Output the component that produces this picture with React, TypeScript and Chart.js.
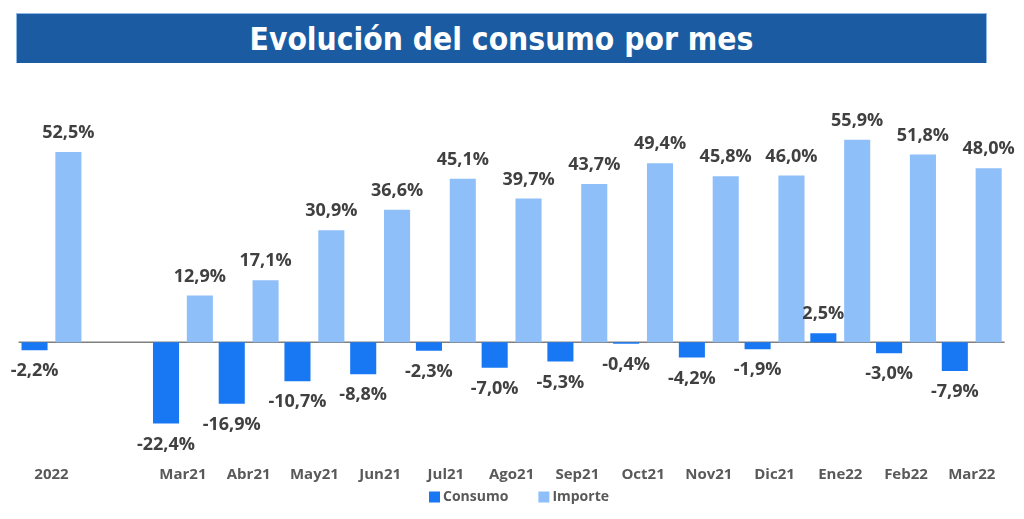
import React, { useEffect, useRef } from "react";
import { Chart, registerables } from "chart.js";

Chart.register(...registerables);

// Monthly categories (blank slot separates the yearly total from the months)
const categories = [
  "2022", "", "Mar21", "Abr21", "May21", "Jun21", "Jul21", "Ago21",
  "Sep21", "Oct21", "Nov21", "Dic21", "Ene22", "Feb22", "Mar22",
];

// Year-on-year change, %
const consumo = [-2.2, null, -22.4, -16.9, -10.7, -8.8, -2.3, -7.0, -5.3, -0.4, -4.2, -1.9, 2.5, -3.0, -7.9];
const importe = [52.5, null, 12.9, 17.1, 30.9, 36.6, 45.1, 39.7, 43.7, 49.4, 45.8, 46.0, 55.9, 51.8, 48.0];

const seriesNames = ["Consumo", "Importe"];
const titleText = "Evolución del consumo por mes";

const COLOR_CONSUMO = "#1878F4";
const COLOR_IMPORTE = "#8EBFF9";
const LABEL_COLOR = "#404040";
const AXIS_TEXT = "#595959";
const FONT = "'Open Sans', Lato, sans-serif";

const fmt = (v: number) => v.toFixed(1).replace(".", ",") + "%";

// Zero baseline under the bars
const zeroLine = {
  id: "zeroLine",
  beforeDatasetsDraw(chart: any) {
    const { ctx, chartArea, scales } = chart;
    const y = scales.y.getPixelForValue(0);
    ctx.save();
    ctx.strokeStyle = "#7f7f7f";
    ctx.lineWidth = 1.5;
    ctx.beginPath();
    ctx.moveTo(chartArea.left, y);
    ctx.lineTo(chartArea.right, y);
    ctx.stroke();
    ctx.restore();
  },
};

// Percentage labels at the end of each bar
const valueLabels = {
  id: "valueLabels",
  afterDatasetsDraw(chart: any) {
    const { ctx } = chart;
    ctx.save();
    ctx.font = `bold 18px ${FONT}`;
    ctx.fillStyle = LABEL_COLOR;
    ctx.textAlign = "center";
    ctx.textBaseline = "middle";
    chart.data.datasets.forEach((ds: any, di: number) => {
      const meta = chart.getDatasetMeta(di);
      meta.data.forEach((el: any, i: number) => {
        const v = ds.data[i];
        if (v === null || v === undefined) return;
        const y = v >= 0 ? el.y - 19 : el.y + 21;
        ctx.fillText(fmt(v), el.x, y);
      });
    });
    ctx.restore();
  },
};

// Compact legend centred under the axis labels
const bottomLegend = {
  id: "bottomLegend",
  afterDraw(chart: any) {
    const { ctx } = chart;
    const box = 11;
    const gap = 3;
    const itemGap = 30;
    const cy = 497;
    ctx.save();
    ctx.font = `bold 14px ${FONT}`;
    ctx.textBaseline = "middle";
    ctx.textAlign = "left";
    const items = chart.data.datasets.map((ds: any) => ({
      text: ds.label,
      color: ds.backgroundColor,
      w: box + gap + ctx.measureText(ds.label).width,
    }));
    const total = items.reduce((s: number, it: any) => s + it.w, 0) + itemGap * (items.length - 1);
    let x = 519 - total / 2;
    items.forEach((it: any) => {
      ctx.fillStyle = it.color;
      ctx.fillRect(x, cy - box / 2, box, box);
      ctx.fillStyle = AXIS_TEXT;
      ctx.fillText(it.text, x + box + gap, cy);
      x += it.w + itemGap;
    });
    ctx.restore();
  },
};

export default function App() {
  const canvasRef = useRef<HTMLCanvasElement | null>(null);

  useEffect(() => {
    if (!canvasRef.current) return;
    const chart = new Chart(canvasRef.current, {
      type: "bar",
      data: {
        labels: categories,
        datasets: [
          {
            label: seriesNames[0],
            data: consumo,
            backgroundColor: COLOR_CONSUMO,
            borderWidth: 0,
            categoryPercentage: 1.03,
            barPercentage: 0.77,
          },
          {
            label: seriesNames[1],
            data: importe,
            backgroundColor: COLOR_IMPORTE,
            borderWidth: 0,
            categoryPercentage: 1.03,
            barPercentage: 0.77,
          },
        ],
      },
      options: {
        responsive: false,
        animation: false,
        devicePixelRatio: 1,
        layout: { padding: { top: 106.7, left: 18.6, right: 19.4, bottom: 31 } },
        scales: {
          x: {
            grid: { display: false, drawTicks: false },
            border: { display: false },
            ticks: {
              padding: 4,
              color: AXIS_TEXT,
              font: { family: FONT, size: 15, weight: "bold" },
              maxRotation: 0,
              autoSkip: false,
            },
          },
          y: {
            display: false,
            min: -33,
            max: 65,
          },
        },
        plugins: {
          legend: { display: false },
          tooltip: { enabled: false },
        },
      },
      plugins: [zeroLine, valueLabels, bottomLegend],
    });
    return () => chart.destroy();
  }, []);

  return (
    <div
      style={{
        position: "absolute",
        left: 0,
        top: 0,
        width: 1024,
        height: 519,
        background: "#ffffff",
        overflow: "hidden",
      }}
    >
      <canvas
        ref={canvasRef}
        width={1024}
        height={519}
        style={{ position: "absolute", left: 0, top: 0, width: 1024, height: 519 }}
      />
      <div
        style={{
          position: "absolute",
          left: 16,
          top: 13,
          width: 971,
          height: 50,
          boxSizing: "border-box",
          background: "#1A5BA2",
          borderTop: "1px solid #8fb8e6",
          borderLeft: "1px solid #8fb8e6",
          borderRight: "1px solid #8fb8e6",
          display: "flex",
          alignItems: "center",
          justifyContent: "center",
          color: "#ffffff",
          fontFamily: "'DejaVu Sans Condensed', 'DejaVu Sans', sans-serif",
          fontStretch: "condensed",
          fontWeight: "bold",
          fontSize: 31.5,
          letterSpacing: 0,
        }}
      >
        {titleText}
      </div>
    </div>
  );
}
